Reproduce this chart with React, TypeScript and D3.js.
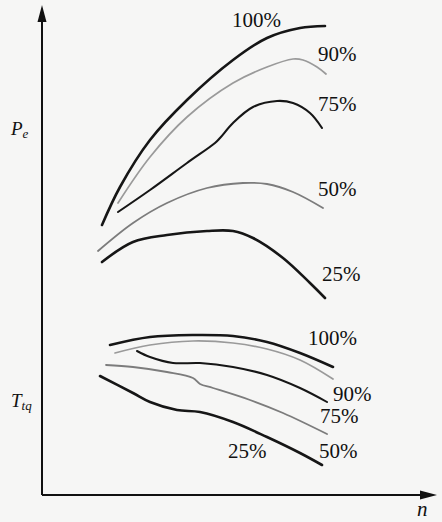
import React from "react";
import * as d3 from "d3";

// Engine speed (arbitrary units) and output values (arbitrary units)
const pe100N = [60, 78, 108, 145, 191, 225, 258, 283];
const pe100V = [270, 308, 355, 395, 435, 457, 467, 469];
const pe90N = [76, 108, 145, 191, 225, 251, 261, 275, 284];
const pe90V = [292, 338, 378, 412, 428, 436, 435, 428, 421];
const pe75N = [76, 108, 145, 173, 178, 191, 211, 235, 251, 268, 280];
const pe75V = [283, 305, 332, 352, 357, 372, 388, 394, 392, 382, 367];
const pe50N = [56, 91, 125, 165, 201, 225, 251, 281];
const pe50V = [244, 272, 292, 307, 312, 311, 303, 287];
const pe25N = [60, 91, 125, 165, 191, 211, 241, 268, 283];
const pe25V = [233, 253, 260, 264, 264, 257, 237, 212, 197];

const tq100N = [68, 108, 151, 191, 225, 258, 291];
const tq100V = [150, 158, 160, 159, 153, 142, 128];
const tq90N = [73, 108, 151, 191, 225, 258, 291];
const tq90V = [142, 150, 154, 152, 146, 135, 116];
const tq75N = [95, 108, 131, 158, 191, 225, 258, 285];
const tq75V = [144, 138, 132, 132, 128, 120, 107, 93];
const tq50N = [64, 91, 125, 151, 158, 171, 208, 241, 285];
const tq50V = [130, 128, 123, 117, 111, 107, 95, 82, 61];
const tq25N = [58, 91, 108, 135, 158, 191, 225, 258, 280];
const tq25V = [119, 102, 93, 85, 83, 73, 58, 42, 30];

const seriesLabels = ["100%", "90%", "75%", "50%", "25%"];

type Series = { n: number[]; v: number[]; label: string; tone: "dark" | "gray" | "light"; w: number; lx: number; ly: number };

const W = 442;
const H = 522;
const x = d3.scaleLinear().domain([0, 398]).range([42, 440]);
const y = d3.scaleLinear().domain([0, 487]).range([495, 8]);

const series: Series[] = [
  { n: pe100N, v: pe100V, label: seriesLabels[0], tone: "dark", w: 2.6, lx: 190, ly: 468 },
  { n: pe90N, v: pe90V, label: seriesLabels[1], tone: "light", w: 1.7, lx: 276, ly: 434 },
  { n: pe75N, v: pe75V, label: seriesLabels[2], tone: "dark", w: 2.1, lx: 276, ly: 384 },
  { n: pe50N, v: pe50V, label: seriesLabels[3], tone: "gray", w: 1.8, lx: 276, ly: 299 },
  { n: pe25N, v: pe25V, label: seriesLabels[4], tone: "dark", w: 2.6, lx: 280, ly: 214 },
  { n: tq100N, v: tq100V, label: seriesLabels[0], tone: "dark", w: 2.6, lx: 266, ly: 150 },
  { n: tq90N, v: tq90V, label: seriesLabels[1], tone: "light", w: 1.7, lx: 291, ly: 94 },
  { n: tq75N, v: tq75V, label: seriesLabels[2], tone: "dark", w: 2.0, lx: 278, ly: 72 },
  { n: tq50N, v: tq50V, label: seriesLabels[3], tone: "gray", w: 1.8, lx: 277, ly: 37 },
  { n: tq25N, v: tq25V, label: seriesLabels[4], tone: "dark", w: 2.6, lx: 186, ly: 37 },
];

const toneColor = { dark: "#161616", gray: "#7c7c7c", light: "#9a9a9a" };

const line = d3
  .line<[number, number]>()
  .x((d) => x(d[0]))
  .y((d) => y(d[1]))
  .curve(d3.curveCatmullRom.alpha(0.5));

const font = "Liberation Serif, Times New Roman, DejaVu Serif, serif";

export default function App() {
  const x0 = x(0);
  const y0 = y(0);
  const textStyle = { fontFamily: font };
  return (
    <svg width={W} height={H} style={{ position: "absolute", left: 0, top: 0, background: "#f6f6f5" }}>
      <rect x={0} y={0} width={W} height={H} fill="#f6f6f5" />
      {/* axes */}
      <line x1={x0} y1={y0} x2={x0} y2={18} stroke="#111" strokeWidth={2} />
      <polygon points={`${x0},5 ${x0 - 4.5},22 ${x0 + 4.5},22`} fill="#111" />
      <line x1={x0} y1={y0} x2={424} y2={y0} stroke="#111" strokeWidth={2} />
      <polygon points={`437,${y0} 420,${y0 - 4.5} 420,${y0 + 4.5}`} fill="#111" />

      {series.map((s, i) => (
        <path
          key={i}
          d={line(s.n.map((n, j) => [n, s.v[j]] as [number, number])) || ""}
          fill="none"
          stroke={toneColor[s.tone]}
          strokeWidth={s.w}
          strokeLinecap="round"
          strokeLinejoin="round"
        />
      ))}
      {series.map((s, i) => (
        <text key={"t" + i} x={x(s.lx)} y={y(s.ly)} style={textStyle} fontSize={21} fill="#111">
          {s.label}
        </text>
      ))}

      <text x={11} y={135} style={textStyle} fontSize={19} fontStyle="italic" fill="#111">
        P<tspan fontSize={13} dy={3}>e</tspan>
      </text>
      <text x={11} y={407} style={textStyle} fontSize={19} fontStyle="italic" fill="#111">
        T<tspan fontSize={13} dy={3}>tq</tspan>
      </text>
      <text x={417} y={516} style={textStyle} fontSize={21} fontStyle="italic" fill="#111">
        n
      </text>
    </svg>
  );
}
